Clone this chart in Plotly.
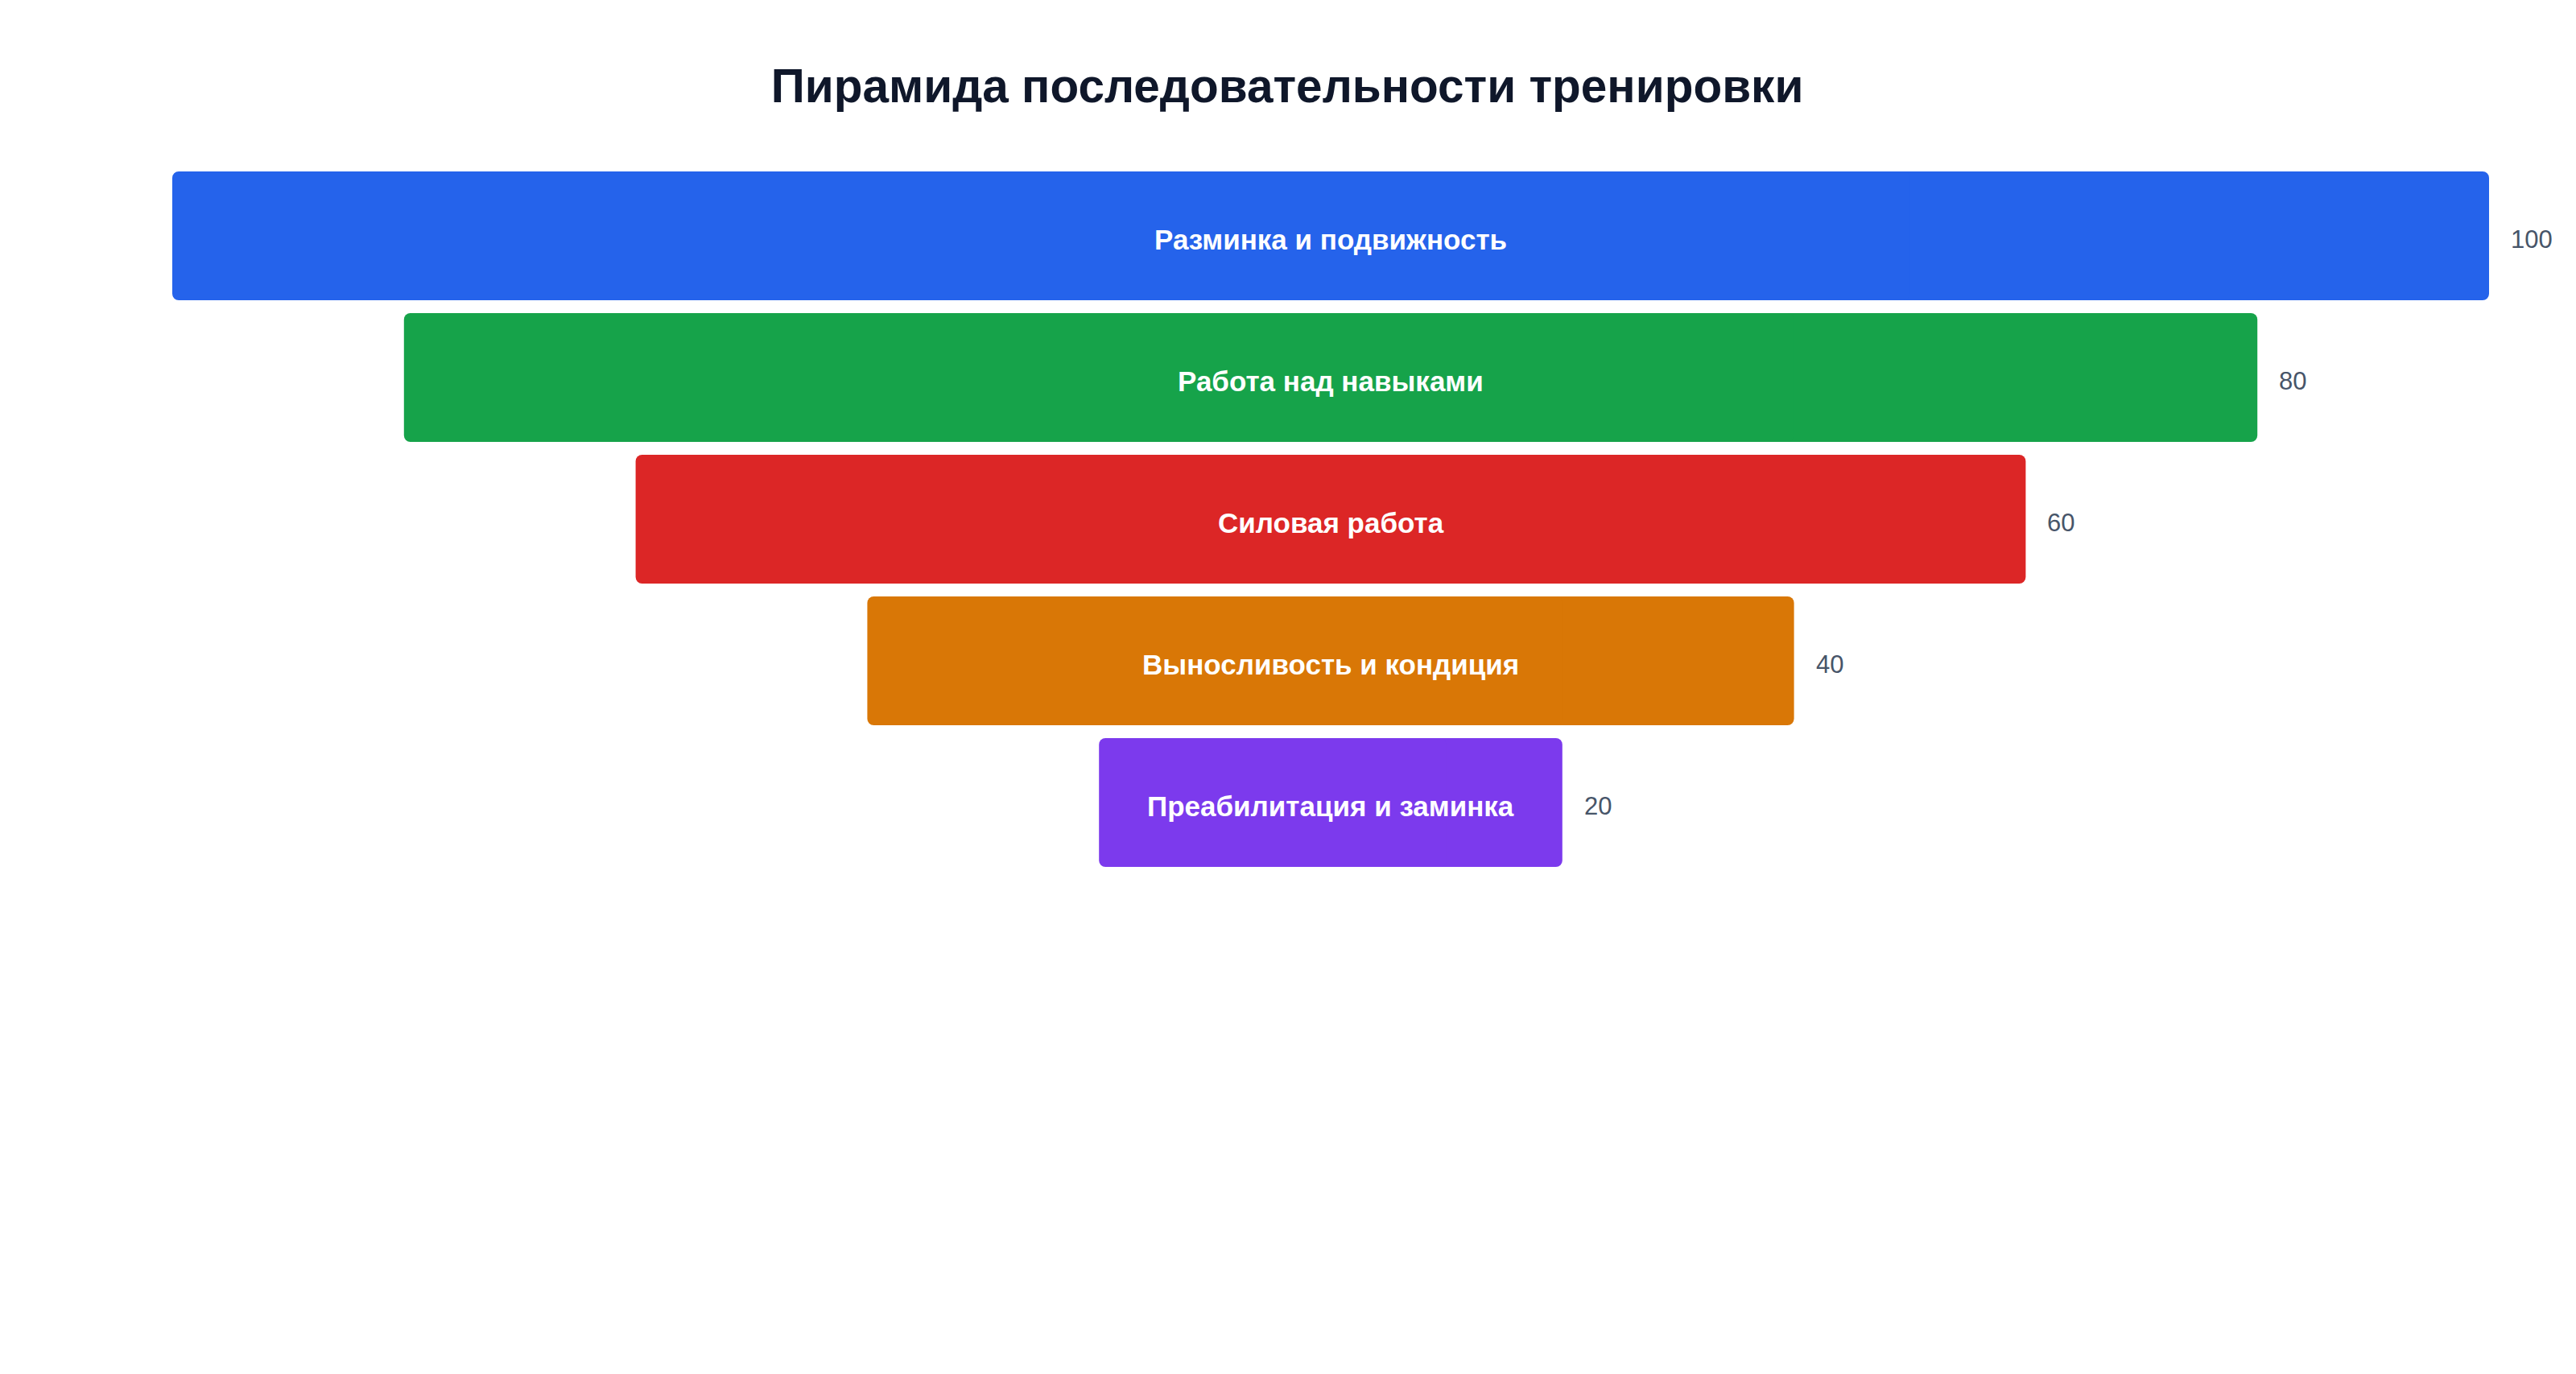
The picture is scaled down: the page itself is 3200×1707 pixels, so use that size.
import plotly.graph_objects as go

stages = ["Разминка и подвижность", "Работа над навыками", "Силовая работа",
          "Выносливость и кондиция", "Преабилитация и заминка"]
values = [100, 80, 60, 40, 20]
colors = ["#2563eb", "#16a34a", "#dc2626", "#d97706", "#7c3aed"]
title_text = "Пирамида последовательности тренировки"

FONT = "Liberation Sans, Arial, Helvetica, sans-serif"

half = [v / 2 for v in values]

fig = go.Figure()
# right half (rounded right end)
fig.add_trace(go.Bar(
    y=stages, x=half, base=[0] * len(values), orientation="h",
    marker=dict(color=colors, line=dict(width=0), cornerradius=8),
    hoverinfo="skip", showlegend=False,
))
# left half (rounded left end), overlapping center slightly to avoid seams
fig.add_trace(go.Bar(
    y=stages, x=[-(h + h / 2) for h in half], base=[h / 2 for h in half], orientation="h",
    marker=dict(color=colors, line=dict(width=0), cornerradius=8),
    hoverinfo="skip", showlegend=False,
))

annotations = []
for s, v in zip(stages, values):
    annotations.append(dict(
        x=0, y=s, xref="x", yref="y", text=f"<b>{s}</b>", showarrow=False,
        font=dict(family=FONT, size=35, color="#ffffff"), xanchor="center", yanchor="middle",
        yshift=-4,
    ))
    annotations.append(dict(
        x=v / 2, y=s, xref="x", yref="y", text=str(v), showarrow=False,
        font=dict(family=FONT, size=31, color="#475569"), xanchor="left", yanchor="middle",
        xshift=25, yshift=-4,
    ))

fig.update_layout(
    width=3200, height=1707,
    barmode="overlay", bargap=0.09,
    paper_bgcolor="#ffffff", plot_bgcolor="#ffffff",
    margin=dict(l=206, r=116, t=197, b=630),
    title=dict(text=f"<b>{title_text}</b>", x=1591 / 3200, xanchor="center",
               y=1 - 99 / 1707, yref="container", yanchor="middle",
               font=dict(family=FONT, size=58.5, color="#0f172a")),
    xaxis=dict(range=[-50, 50], visible=False, fixedrange=True),
    yaxis=dict(autorange="reversed", visible=False, fixedrange=True),
    annotations=annotations,
    font=dict(family=FONT),
)

fig.write_html("out.html")
